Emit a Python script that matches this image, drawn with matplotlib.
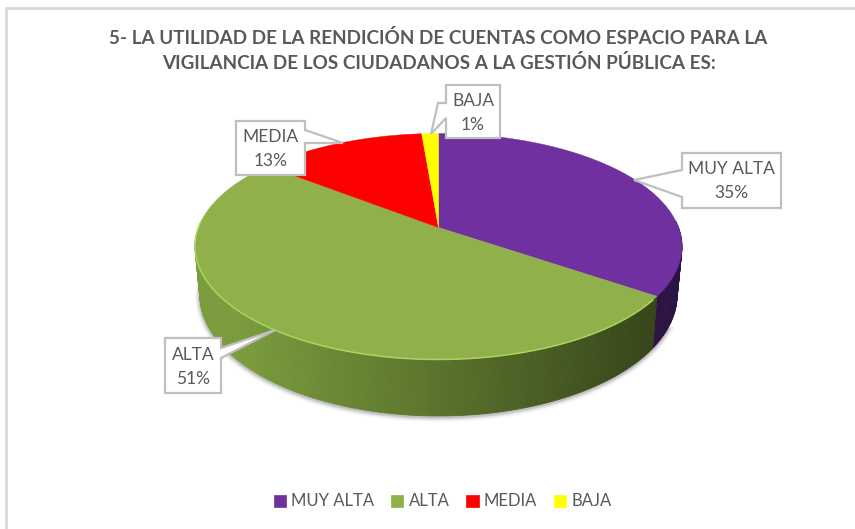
import matplotlib
matplotlib.use('Agg')
import matplotlib.pyplot as plt
import numpy as np
from matplotlib.patches import Patch, Polygon

plt.rcParams['font.family'] = ['Lato', 'DejaVu Sans']

categories = ['MUY ALTA', 'ALTA', 'MEDIA', 'BAJA']
shares = [34.6, 51.0, 13.1, 1.3]
top_colors = ['#7030A0', '#8FB04B', '#FF0000', '#FFFF00']
title_lines = ['5- LA UTILIDAD DE LA RENDICIÓN DE CUENTAS COMO ESPACIO PARA LA',
               'VIGILANCIA DE LOS CIUDADANOS A LA GESTIÓN PÚBLICA ES:']

TEXT = '#595959'
BORDER = '#BFBFBF'

# pie geometry, in pixels of the figure
CX, CY = 438.5, 227.5
RX, RY, K, DEPTH = 240, 109.8, 0.168, 47


def project(deg, drop=0.0):
    t = np.radians(deg)
    w = 1 + K * np.sin(t)
    x = RX * np.cos(t) / w
    y = -RY * np.sin(t) / w
    if drop:
        return CX + x * 0.98, CY + y + drop / w
    return CX + x, CY + y


fig = plt.figure(figsize=(8.55, 5.29), dpi=100)
ax = fig.add_axes([0, 0, 1, 1])
ax.set_xlim(0, 855)
ax.set_ylim(529, 0)
ax.axis('off')

# chart frame
ax.plot([6, 6, 860], [535, 8, 8], color='#D9D9D9', lw=2, solid_joinstyle='miter')

ends = 90 - np.cumsum(shares) * 3.6
starts = np.r_[90, ends[:-1]]

# soft shadow under the wall
sx, sy = project(np.linspace(-25, -180, 200), DEPTH)
for lw, a in zip([7, 5, 3.5, 2], [0.04, 0.05, 0.07, 0.10]):
    ax.plot(sx, sy + 1, color='black', lw=lw, alpha=a, zorder=1)

# wall strips: purple from the seam to the right edge, green from the left edge to the seam
for d in np.arange(ends[0], 3, 1.0):
    pair = np.array([d, d + 1.0])
    tx, ty = project(pair)
    bx, by = project(pair, DEPTH)
    ax.add_patch(Polygon(np.c_[np.r_[tx, bx[::-1]], np.r_[ty, by[::-1]]], closed=True,
                         fc='#2C1345', ec='#2C1345', lw=0.6, zorder=2))

left = np.array([0.48, 0.61, 0.24])
right = np.array([0.21, 0.27, 0.10])
for d in np.arange(-183, ends[0], 1.0):
    pair = np.array([d, min(d + 1.0, ends[0])])
    tx, ty = project(pair)
    bx, by = project(pair, DEPTH)
    # darker to the right, like the 3d bevel
    f = np.clip((tx[0] - 240) / (658 - 240), 0, 1)
    col = tuple(left + (right - left) * f)
    ax.add_patch(Polygon(np.c_[np.r_[tx, bx[::-1]], np.r_[ty, by[::-1]]], closed=True,
                         fc=col, ec=col, lw=0.6, zorder=2))

# top faces
for i in range(4):
    t = np.linspace(starts[i], ends[i], 200)
    x, y = project(t)
    ax.add_patch(Polygon(np.c_[np.r_[CX, x], np.r_[CY, y]], closed=True,
                         fc=top_colors[i], ec=top_colors[i], lw=0.3, zorder=3))

# light rim along the front of the green slice
x, y = project(np.linspace(-183, ends[0] - 2, 200))
ax.plot(x, y, color='#A9D65C', lw=1.1, zorder=4)

# callouts: outline with pointer, then the box the text sits in
boxes = [
    ('MUY ALTA', [(682, 153), (781, 153), (781, 208), (682, 208), (682, 197), (634, 180), (682, 170)], 731.5, 180.5),
    ('ALTA', [(165, 338), (221, 338), (221, 348), (275, 330), (221, 358), (221, 393), (165, 393)], 193, 365.5),
    ('MEDIA', [(236, 121), (305, 121), (305, 130), (343, 143), (305, 143), (305, 175), (236, 175)], 270.5, 148),
    ('BAJA', [(446, 85), (500, 85), (500, 138), (446, 138), (446, 118), (431, 134), (438, 103), (446, 103)], 473, 111.5),
]
for name, pts, tx, mid in boxes:
    share = shares[categories.index(name)]
    ax.add_patch(Polygon(np.array(pts), closed=True, fc='white', ec=BORDER, lw=1.6, zorder=5, joinstyle='miter'))
    ax.text(tx, mid - 11, name, ha='center', va='center', fontsize=12.5, color=TEXT, zorder=6)
    ax.text(tx, mid + 13, f'{share:.0f}%', ha='center', va='center', fontsize=12.5, color=TEXT, zorder=6)

ax.text(438.5, 38.5, title_lines[0], ha='center', va='center', fontsize=13.6, fontweight='bold', color=TEXT)
ax.text(438.5, 63, title_lines[1], ha='center', va='center', fontsize=13.6, fontweight='bold', color=TEXT)

handles = [Patch(fc=c, ec=c, lw=0.5) for c in top_colors]
ax.legend(handles, categories, loc='center', bbox_to_anchor=(442.5 / 855, 1 - 501.5 / 529), ncol=4,
          frameon=False, fontsize=12, labelcolor=TEXT, handlelength=0.75, handleheight=0.75,
          handletextpad=0.3, columnspacing=1.0, borderpad=0)

plt.savefig('out.png', dpi=100)
